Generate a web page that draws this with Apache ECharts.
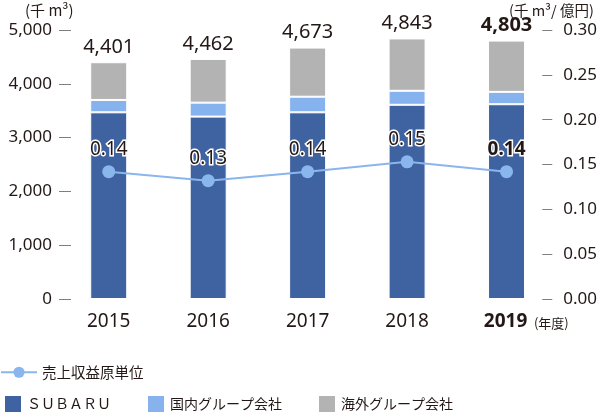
<!DOCTYPE html>
<html>
<head>
<meta charset="utf-8">
<script src="https://cdn.jsdelivr.net/npm/echarts@6/dist/echarts.min.js"></script>
<style>
html,body{margin:0;padding:0;background:#fff;}
#c{width:600px;height:413px;}
</style>
</head>
<body>
<div id="c"></div>
<script>
var years = ['2015', '2016', '2017', '2018', '2019'];
var subaru = [3470, 3390, 3470, 3610, 3620];
var domestic = [230, 260, 290, 260, 230];
var overseas = [701, 812, 913, 973, 953];
var totals = [4401, 4462, 4673, 4843, 4803];
var intensity = [0.142, 0.132, 0.142, 0.153, 0.142];
var leftTicks = [0, 1000, 2000, 3000, 4000, 5000];
var rightTicks = [0, 0.05, 0.10, 0.15, 0.20, 0.25, 0.30];

var FONT = '"Noto Sans", "Noto Sans CJK JP", sans-serif';
var CJK = '"Noto Sans CJK JP", sans-serif';
var TXT = '#231815';
var chart = echarts.init(document.getElementById('c'));

function fmtComma(v){ return Math.round(v).toString().replace(/\B(?=(\d{3})+(?!\d))/g, ','); }

var last = years.length - 1;

var overseasData = overseas.map(function(v, i){
  var d = {value: v};
  if (i === last) d.label = {fontWeight: 'bold'};
  return d;
});
var lineData = intensity.map(function(v, i){
  var d = {value: v};
  if (i === last) d.label = {fontWeight: 'bold'};
  return d;
});

chart.setOption({
  backgroundColor: '#fff',
  textStyle: {fontFamily: FONT},
  animation: false,
  grid: {left: 59, right: 41, top: 30, bottom: 114},
  graphic: [
    {type: 'text', left: 25, top: 3, style: {text: '(千 m³)', fontSize: 15, fontFamily: CJK, fill: TXT, align: 'left', verticalAlign: 'top'}},
    {type: 'text', left: 509, top: 3, style: {text: '(千 m³/ 億円)', fontSize: 14.5, fontFamily: CJK, fill: TXT, align: 'left', verticalAlign: 'top'}}
  ],
  legend: [
    {
      data: ['売上収益原単位'], left: 0, top: 365, padding: 0, itemWidth: 36, itemHeight: 14, itemGap: 20,
      textStyle: {fontFamily: CJK, fontSize: 14.5, color: TXT}
    },
    {
      data: ['ＳＵＢＡＲＵ', '国内グループ会社', '海外グループ会社'], left: 3, top: 394, padding: 0,
      itemWidth: 18, itemHeight: 18, itemGap: 35, icon: 'rect',
      textStyle: {fontFamily: CJK, fontSize: 14, color: TXT}
    }
  ],
  xAxis: {
    type: 'category', data: years,
    axisLine: {show: false}, axisTick: {show: false},
    axisLabel: {
      interval: 0, margin: 13, color: TXT, fontSize: 19, fontFamily: FONT,
      formatter: function(v, i){ return i === last ? '{sp|}{b|' + v + '}{s|(年度)}' : v; },
      rich: {
        sp: {width: 44, fontSize: 12},
        b: {fontWeight: 'bold', fontSize: 19, color: TXT, fontFamily: FONT},
        s: {width: 44, fontSize: 13, color: TXT, fontFamily: CJK, padding: [4, 0, 0, 2]}
      }
    }
  },
  yAxis: [
    {
      type: 'value', min: 0, max: 5000, interval: 1000,
      axisLine: {show: false},
      axisTick: {show: true, inside: true, length: 12, lineStyle: {color: '#7f7f7f', width: 1}},
      splitLine: {show: false},
      axisLabel: {margin: 7, color: TXT, fontSize: 17, fontFamily: FONT, formatter: fmtComma}
    },
    {
      type: 'value', min: 0, max: 0.3, interval: 0.05, offset: -4,
      axisLine: {show: false},
      axisTick: {show: true, inside: true, length: 10, lineStyle: {color: '#7f7f7f', width: 1}},
      splitLine: {show: false},
      axisLabel: {margin: 11, color: TXT, fontSize: 17, fontFamily: FONT, formatter: function(v){ return v.toFixed(2); }}
    }
  ],
  series: [
    {
      name: 'ＳＵＢＡＲＵ', type: 'bar', stack: 't', data: subaru, barWidth: 37,
      itemStyle: {color: '#3f62a0', borderColor: '#fff', borderWidth: 1}
    },
    {
      name: '国内グループ会社', type: 'bar', stack: 't', data: domestic,
      itemStyle: {color: '#86b3ee', borderColor: '#fff', borderWidth: 1}
    },
    {
      name: '海外グループ会社', type: 'bar', stack: 't', data: overseasData,
      itemStyle: {color: '#b3b3b3', borderColor: '#fff', borderWidth: 1},
      label: {
        show: true, position: 'top', distance: 5, color: TXT, fontSize: 20, fontFamily: FONT,
        formatter: function(p){ return fmtComma(totals[p.dataIndex]); }
      }
    },
    {
      name: '売上収益原単位', type: 'line', yAxisIndex: 1, data: lineData, z: 5,
      symbol: 'circle', symbolSize: 13,
      lineStyle: {color: '#8ab6ee', width: 2},
      itemStyle: {color: '#8ab6ee'},
      label: {
        show: true, position: 'top', distance: 6, color: TXT, fontSize: 19, fontFamily: FONT,
        textBorderColor: '#fff', textBorderWidth: 3,
        formatter: function(p){ return p.value.toFixed(2); }
      }
    }
  ]
});
</script>
</body>
</html>
